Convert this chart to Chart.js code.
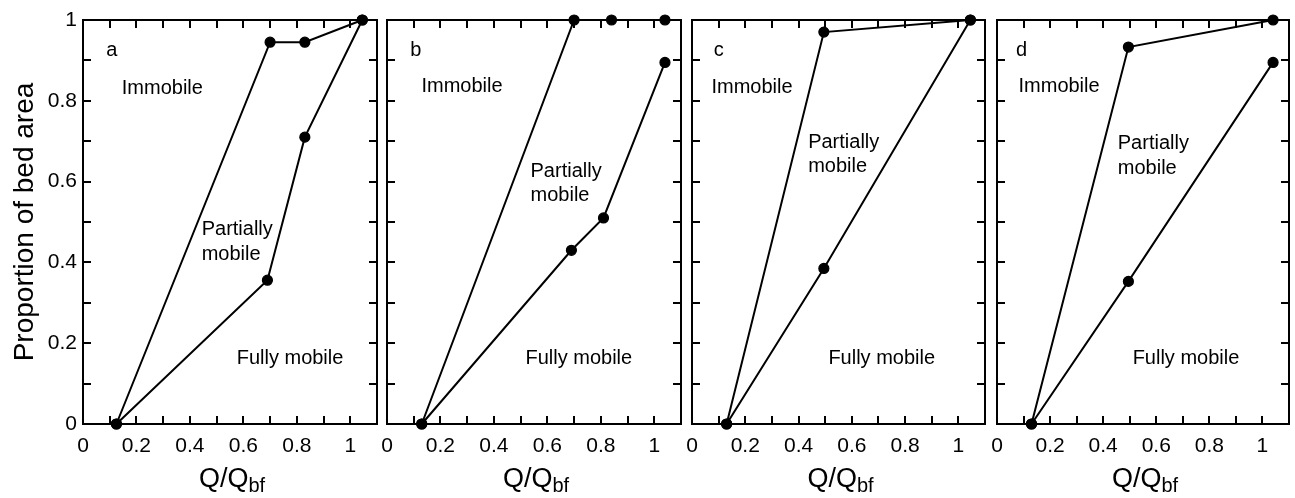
<!DOCTYPE html>
<html>
<head>
<meta charset="utf-8">
<script src="https://cdn.jsdelivr.net/npm/chart.js@4.4.1/dist/chart.umd.min.js"></script>
<style>
  html, body { margin: 0; padding: 0; background: #fff; }
  #wrap { position: relative; width: 1295px; height: 498px; overflow: hidden; }
  #wrap canvas { position: absolute; top: 0; }
</style>
</head>
<body>
<div id="wrap"></div>
<script>
// Panel letters
const panelLetters = ["a", "b", "c", "d"];

// Upper curve (immobile / partially mobile boundary) and lower curve (partially / fully mobile)
const upperA_x = [0.125, 0.70, 0.83, 1.045];
const upperA_y = [0, 0.945, 0.945, 1.0];
const lowerA_x = [0.125, 0.69, 0.83, 1.045];
const lowerA_y = [0, 0.356, 0.71, 1.0];

const upperB_x = [0.13, 0.70, 0.84, 1.04];
const upperB_y = [0, 1.0, 1.0, 1.0];
const lowerB_x = [0.13, 0.69, 0.81, 1.04];
const lowerB_y = [0, 0.43, 0.51, 0.895];

const upperC_x = [0.13, 0.495, 1.045];
const upperC_y = [0, 0.97, 1.0];
const lowerC_x = [0.13, 0.495, 1.045];
const lowerC_y = [0, 0.385, 1.0];

const upperD_x = [0.13, 0.495, 1.04];
const upperD_y = [0, 0.933, 1.0];
const lowerD_x = [0.13, 0.495, 1.04];
const lowerD_y = [0, 0.353, 0.895];

// Tick labels
const xTickValues = [0, 0.2, 0.4, 0.6, 0.8, 1];
const xTickLabels = ["0", "0.2", "0.4", "0.6", "0.8", "1"];
const yTickValues = [0, 0.2, 0.4, 0.6, 0.8, 1];
const yTickLabels = ["0", "0.2", "0.4", "0.6", "0.8", "1"];

// Region labels, in data units: [text, x, y]
const notesA = [["Immobile", 0.145, 0.831], ["Partially", 0.444, 0.482], ["mobile", 0.444, 0.42], ["Fully mobile", 0.575, 0.163]];
const notesB = [["Immobile", 0.129, 0.835], ["Partially", 0.537, 0.624], ["mobile", 0.537, 0.566], ["Fully mobile", 0.518, 0.161]];
const notesC = [["Immobile", 0.073, 0.834], ["Partially", 0.436, 0.696], ["mobile", 0.436, 0.638], ["Fully mobile", 0.512, 0.163]];
const notesD = [["Immobile", 0.081, 0.835], ["Partially", 0.455, 0.694], ["mobile", 0.455, 0.633], ["Fully mobile", 0.511, 0.163]];
const letterPos = [[0.087, 0.925], [0.087, 0.925], [0.082, 0.925], [0.072, 0.925]];

const yTitle = "Proportion of bed area";
const xTitleMain = "Q/Q";
const xTitleSub = "bf";

const FONT = "'Liberation Sans', Arial, Helvetica, sans-serif";

const panels = [
  { ux: upperA_x, uy: upperA_y, lx: lowerA_x, ly: lowerA_y, notes: notesA },
  { ux: upperB_x, uy: upperB_y, lx: lowerB_x, ly: lowerB_y, notes: notesB },
  { ux: upperC_x, uy: upperC_y, lx: lowerC_x, ly: lowerC_y, notes: notesC },
  { ux: upperD_x, uy: upperD_y, lx: lowerD_x, ly: lowerD_y, notes: notesD },
];

// layout of the four plot boxes (pixels)
const plotLeft = [83, 387, 692, 997];
const plotWidth = [294, 294, 293, 292];
const RIGHT_PAD = 14;

const zip = (xs, ys) => xs.map((x, i) => ({ x, y: ys[i] }));

const lineStyle = {
  showLine: true,
  borderColor: "#000",
  borderWidth: 2,
  backgroundColor: "#000",
  pointRadius: 5,
  pointBorderWidth: 1.2,
  pointBackgroundColor: "#000",
  pointBorderColor: "#000",
  clip: false,
};

// frame + inward tick marks on all four sides
const framePlugin = {
  id: "frameTicks",
  beforeDatasetsDraw(chart) {
    const { ctx, chartArea: a, scales } = chart;
    const L = 8;
    ctx.save();
    ctx.strokeStyle = "#000";
    ctx.lineWidth = 2;
    ctx.beginPath();
    scales.x.ticks.forEach(t => {
      if (t.value <= scales.x.min + 1e-6 || t.value >= scales.x.max - 1e-6) return;
      const px = Math.round(scales.x.getPixelForValue(t.value));
      ctx.moveTo(px, a.bottom); ctx.lineTo(px, a.bottom - L);
      ctx.moveTo(px, a.top); ctx.lineTo(px, a.top + L);
    });
    scales.y.ticks.forEach(t => {
      if (t.value <= scales.y.min + 1e-6 || t.value >= scales.y.max - 1e-6) return;
      const py = Math.round(scales.y.getPixelForValue(t.value));
      ctx.moveTo(a.left, py); ctx.lineTo(a.left + L, py);
      ctx.moveTo(a.right, py); ctx.lineTo(a.right - L, py);
    });
    ctx.stroke();
    ctx.strokeRect(a.left, a.top, a.right - a.left, a.bottom - a.top);
    ctx.restore();
  },
  afterDraw(chart, args, opts) {
    const { ctx, chartArea: a, scales } = chart;
    ctx.save();
    ctx.fillStyle = "#000";
    ctx.textBaseline = "middle";
    ctx.textAlign = "left";
    ctx.font = `20px ${FONT}`;
    const lp = opts.letterAt;
    ctx.fillText(opts.letter, scales.x.getPixelForValue(lp[0]), scales.y.getPixelForValue(lp[1]));
    opts.notes.forEach(([t, x, y]) => {
      ctx.fillText(t, scales.x.getPixelForValue(x), scales.y.getPixelForValue(y));
    });

    // x title with subscript
    ctx.textBaseline = "alphabetic";
    ctx.font = `27px ${FONT}`;
    const wMain = ctx.measureText(xTitleMain).width;
    ctx.font = `20px ${FONT}`;
    const wSub = ctx.measureText(xTitleSub).width;
    const cx = (a.left + a.right) / 2 + 2;
    const x0 = cx - (wMain + wSub) / 2;
    ctx.font = `27px ${FONT}`;
    ctx.fillText(xTitleMain, x0, 487);
    ctx.font = `20px ${FONT}`;
    ctx.fillText(xTitleSub, x0 + wMain, 492);

    if (opts.showYTitle) {
      ctx.font = `28px ${FONT}`;
      ctx.textAlign = "center";
      ctx.textBaseline = "middle";
      ctx.translate(25, (a.top + a.bottom) / 2);
      ctx.rotate(-Math.PI / 2);
      ctx.fillText(yTitle, 0, 0);
    }
    ctx.restore();
  },
};

const tickLabel = (values, labels) => v => {
  const i = values.findIndex(t => Math.abs(t - v) < 1e-6);
  return i >= 0 ? labels[i] : "";
};

const wrap = document.getElementById("wrap");

panels.forEach((p, i) => {
  const yW = i === 0 ? plotLeft[0] : 30;
  const canvasLeft = plotLeft[i] - yW;
  const cw = yW + plotWidth[i] + RIGHT_PAD;
  const canvas = document.createElement("canvas");
  canvas.width = cw;
  canvas.height = 498;
  canvas.style.left = canvasLeft + "px";
  canvas.style.width = cw + "px";
  canvas.style.height = "498px";
  wrap.appendChild(canvas);

  new Chart(canvas, {
    type: "scatter",
    data: {
      datasets: [
        Object.assign({ data: zip(p.ux, p.uy) }, lineStyle),
        Object.assign({ data: zip(p.lx, p.ly) }, lineStyle),
      ],
    },
    plugins: [framePlugin],
    options: {
      responsive: false,
      animation: false,
      events: [],
      layout: { padding: { left: 0, top: 20, right: RIGHT_PAD, bottom: 0 } },
      plugins: {
        legend: { display: false },
        tooltip: { enabled: false },
        frameTicks: {
          letter: panelLetters[i],
          letterAt: letterPos[i],
          notes: p.notes,
          showYTitle: i === 0,
        },
      },
      scales: {
        x: {
          type: "linear",
          min: 0,
          max: 1.1,
          grid: { display: false, drawTicks: false },
          border: { display: false },
          ticks: {
            stepSize: 0.1,
            autoSkip: false,
            maxRotation: 0,
            padding: 10,
            color: "#000",
            font: { family: FONT, size: 21 },
            callback: tickLabel(xTickValues, xTickLabels),
          },
          afterFit: s => { s.height = 74; },
        },
        y: {
          type: "linear",
          min: 0,
          max: 1,
          grid: { display: false, drawTicks: false },
          border: { display: false },
          ticks: {
            display: i === 0,
            stepSize: 0.1,
            autoSkip: false,
            padding: 6,
            color: "#000",
            font: { family: FONT, size: 21 },
            callback: tickLabel(yTickValues, yTickLabels),
          },
          afterFit: s => { s.width = yW; },
        },
      },
    },
  });
});
</script>
</body>
</html>
